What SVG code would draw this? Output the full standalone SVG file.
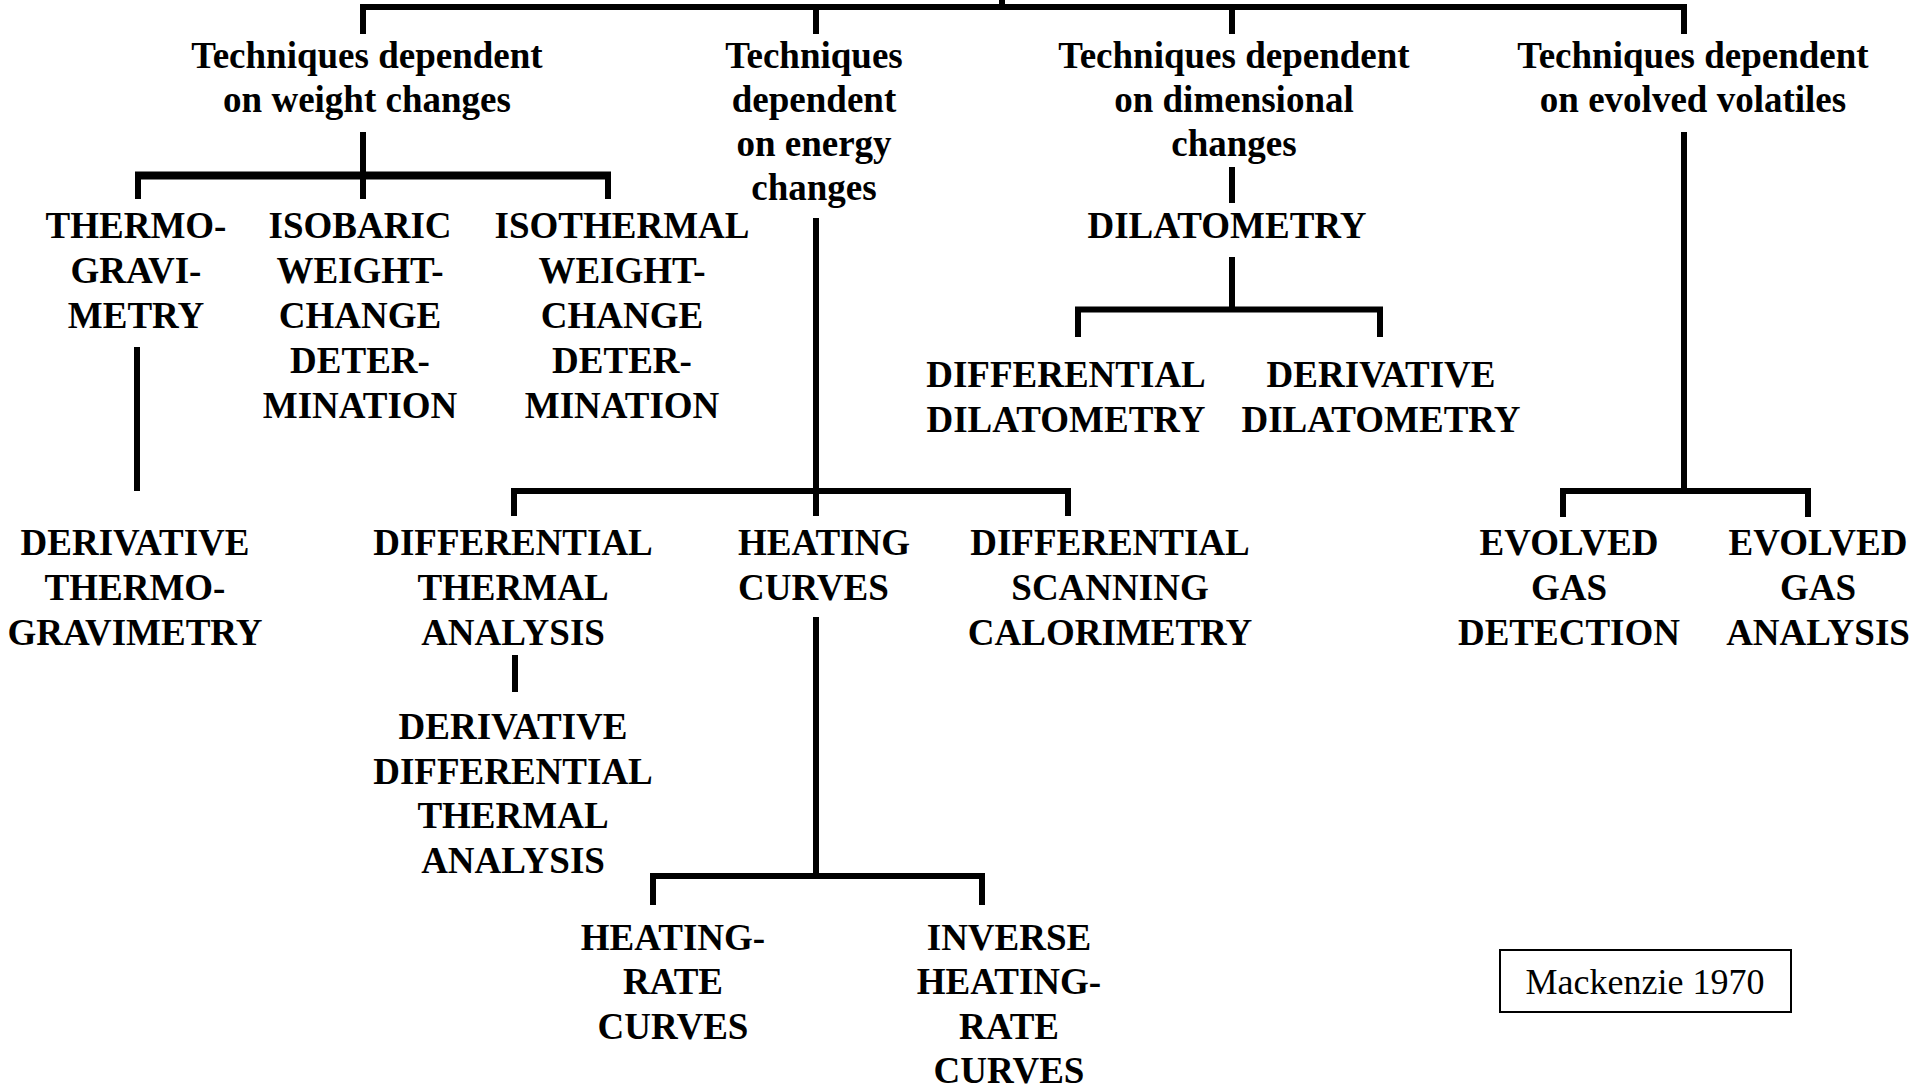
<svg xmlns="http://www.w3.org/2000/svg" width="1917" height="1088" viewBox="0 0 1917 1088">
<style>
  .t { font-family: "Liberation Serif", "Times New Roman", serif; font-weight: bold; font-size: 37px; fill: #000; text-anchor: middle; }
  .ts { text-anchor: start; }
  .c { stroke: #000; stroke-width: 6; fill: none; stroke-linecap: butt; }
  .cb { stroke-width: 8; }
  .note { font-family: "Liberation Serif", "Times New Roman", serif; font-size: 36px; fill: #000; text-anchor: middle; }
</style>
<rect width="1917" height="1088" fill="#fff"/>
<g id="connectors">
  <path class="c" d="M1002 0 V7 M360 7 H1687 M363 7 V34 M816 7 V34 M1232 7 V34 M1684 7 V34"/>
  <path class="c" d="M363 132 V199 M138 199 V175 M608 199 V175"/>
  <path class="c cb" d="M135 175.5 H611"/>
  <path class="c" d="M137 347 V491"/>
  <path class="c" d="M816 218 V516 M511 491 H1071 M514 516 V491 M1068 516 V491"/>
  <path class="c" d="M515 655 V692"/>
  <path class="c" d="M816 617 V876 M650 876 H985 M653 905 V876 M982 905 V876"/>
  <path class="c" d="M1232 167 V203 M1232 257 V309.5 M1075 309.5 H1383 M1078 337 V309.5 M1380 337 V309.5"/>
  <path class="c" d="M1684 132 V491 M1560 491 H1811 M1563 517 V491 M1808 517 V491"/>
</g>
<g id="weight"><text class="t" x="367" y="68">Techniques dependent</text><text class="t" x="367" y="112">on weight changes</text></g>
<g id="energy"><text class="t" x="814" y="68">Techniques</text><text class="t" x="814" y="112">dependent</text><text class="t" x="814" y="156">on energy</text><text class="t" x="814" y="200">changes</text></g>
<g id="dimensional"><text class="t" x="1234" y="68">Techniques dependent</text><text class="t" x="1234" y="112">on dimensional</text><text class="t" x="1234" y="156">changes</text></g>
<g id="volatiles"><text class="t" x="1693" y="68">Techniques dependent</text><text class="t" x="1693" y="112">on evolved volatiles</text></g>
<g id="thermogravimetry"><text class="t" x="136" y="238">THERMO-</text><text class="t" x="136" y="283">GRAVI-</text><text class="t" x="136" y="328">METRY</text></g>
<g id="isobaric"><text class="t" x="360" y="238">ISOBARIC</text><text class="t" x="360" y="283">WEIGHT-</text><text class="t" x="360" y="328">CHANGE</text><text class="t" x="360" y="373">DETER-</text><text class="t" x="360" y="418">MINATION</text></g>
<g id="isothermal"><text class="t" x="622" y="238">ISOTHERMAL</text><text class="t" x="622" y="283">WEIGHT-</text><text class="t" x="622" y="328">CHANGE</text><text class="t" x="622" y="373">DETER-</text><text class="t" x="622" y="418">MINATION</text></g>
<g id="dilatometry"><text class="t" x="1227" y="238">DILATOMETRY</text></g>
<g id="diff-dilatometry"><text class="t" x="1066" y="387">DIFFERENTIAL</text><text class="t" x="1066" y="432">DILATOMETRY</text></g>
<g id="deriv-dilatometry"><text class="t" x="1381" y="387">DERIVATIVE</text><text class="t" x="1381" y="432">DILATOMETRY</text></g>
<g id="dtg"><text class="t" x="135" y="555">DERIVATIVE</text><text class="t" x="135" y="600">THERMO-</text><text class="t" x="135" y="645">GRAVIMETRY</text></g>
<g id="dta"><text class="t" x="513" y="555">DIFFERENTIAL</text><text class="t" x="513" y="600">THERMAL</text><text class="t" x="513" y="645">ANALYSIS</text></g>
<g id="ddta"><text class="t" x="513" y="739">DERIVATIVE</text><text class="t" x="513" y="784">DIFFERENTIAL</text><text class="t" x="513" y="828">THERMAL</text><text class="t" x="513" y="873">ANALYSIS</text></g>
<g id="heating-curves"><text class="t ts" x="738" y="555">HEATING</text><text class="t ts" x="738" y="600">CURVES</text></g>
<g id="dsc"><text class="t" x="1110" y="555">DIFFERENTIAL</text><text class="t" x="1110" y="600">SCANNING</text><text class="t" x="1110" y="645">CALORIMETRY</text></g>
<g id="egd"><text class="t" x="1569" y="555">EVOLVED</text><text class="t" x="1569" y="600">GAS</text><text class="t" x="1569" y="645">DETECTION</text></g>
<g id="ega"><text class="t" x="1818" y="555">EVOLVED</text><text class="t" x="1818" y="600">GAS</text><text class="t" x="1818" y="645">ANALYSIS</text></g>
<g id="heating-rate"><text class="t" x="673" y="950">HEATING-</text><text class="t" x="673" y="994">RATE</text><text class="t" x="673" y="1039">CURVES</text></g>
<g id="inverse-heating-rate"><text class="t" x="1009" y="950">INVERSE</text><text class="t" x="1009" y="994">HEATING-</text><text class="t" x="1009" y="1039">RATE</text><text class="t" x="1009" y="1083">CURVES</text></g>
<g id="source"><rect x="1500" y="950" width="291" height="62" fill="none" stroke="#000" stroke-width="2"/><text class="note" x="1645" y="994">Mackenzie 1970</text></g>
</svg>
